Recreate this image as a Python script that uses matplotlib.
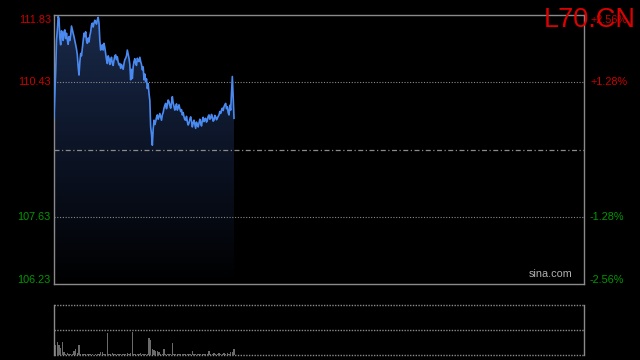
import numpy as np
import matplotlib.pyplot as plt
from matplotlib.colors import LinearSegmentedColormap

# ----------------------------------------
# Data
# ----------------------------------------
symbol = "L70.CN"
pre_close = 109.03
n_slots = 636          # full session width in price samples

price = [
    109.68, 110.20, 110.65, 111.30, 111.52, 111.80, 111.76, 111.35, 111.21, 111.50,
    111.45, 111.30, 111.48, 111.52, 111.34, 111.45, 111.31, 111.22, 111.38, 111.30,
    111.41, 111.60, 111.52, 111.45, 111.38, 111.30, 111.21, 111.12, 111.00, 110.75,
    110.58, 110.85, 111.03, 110.98, 111.14, 111.30, 111.45, 111.38, 111.48, 111.30,
    111.24, 111.35, 111.27, 111.40, 111.48, 111.62, 111.66, 111.58, 111.66, 111.72,
    111.69, 111.64, 111.73, 111.78, 111.66, 111.30, 111.10, 111.18, 111.21, 111.10,
    111.24, 111.15, 111.03, 110.90, 110.82, 110.98, 110.93, 110.80, 110.89, 110.95,
    110.82, 110.78, 110.89, 110.98, 111.00, 110.90, 110.96, 110.85, 110.79, 110.82,
    110.72, 110.80, 110.75, 110.70, 110.82, 110.90, 110.93, 110.98, 111.10, 111.02,
    110.93, 110.80, 110.48, 110.70, 110.51, 110.75, 110.86, 110.92, 110.82, 110.78,
    110.93, 110.88, 110.86, 110.95, 110.86, 110.80, 110.69, 110.75, 110.48, 110.60,
    110.44, 110.50, 110.30, 110.40, 110.20, 110.05, 109.50, 109.35, 109.12, 109.45,
    109.64, 109.55, 109.61, 109.70, 109.75, 109.66, 109.71, 109.78, 109.71, 109.64,
    109.75, 109.80, 109.89, 109.95, 109.99, 109.88, 109.96, 110.06, 110.03, 109.95,
    109.89, 110.00, 110.13, 110.00, 109.92, 109.85, 109.92, 109.98, 109.85, 109.90,
    109.96, 109.88, 109.82, 109.86, 109.75, 109.80, 109.71, 109.65, 109.64, 109.72,
    109.61, 109.54, 109.58, 109.66, 109.71, 109.62, 109.50, 109.58, 109.64, 109.55,
    109.47, 109.60, 109.54, 109.50, 109.58, 109.66, 109.58, 109.52, 109.64, 109.70,
    109.61, 109.66, 109.68, 109.60, 109.64, 109.72, 109.75, 109.66, 109.68, 109.76,
    109.71, 109.62, 109.64, 109.74, 109.71, 109.65, 109.68, 109.72, 109.75, 109.82,
    109.78, 109.85, 109.89, 109.84, 109.92, 109.96, 109.99, 109.88, 109.92, 109.80,
    109.75, 109.95, 109.85, 110.20, 110.55, 110.10, 109.68,
]

# one volume bar per two price samples
volume = [
    100, 20, 26, 20, 14, 26, 6, 3, 4, 2,
    3, 2, 8, 12, 4, 20, 3, 2, 2, 3,
    2, 2, 3, 2, 1, 2, 3, 2, 6, 6,
    2, 3, 45, 3, 2, 4, 2, 3, 2, 2,
    3, 2, 3, 2, 4, 3, 5, 46, 3, 2,
    3, 2, 4, 2, 3, 2, 3, 34, 30, 12,
    10, 8, 8, 6, 3, 2, 12, 3, 2, 3,
    2, 25, 3, 2, 2, 3, 2, 2, 3, 2,
    2, 3, 2, 8, 2, 3, 2, 2, 3, 2,
    2, 3, 2, 8, 2, 3, 4, 2, 3, 5,
    2, 3, 4, 2, 5, 3, 6, 6, 12,
]

pct_levels = [2.56, 1.28, -1.28, -2.56]
price_levels = [111.83, 110.43, 107.63, 106.23]

# ----------------------------------------
# Figure
# ----------------------------------------
plt.rcParams["font.family"] = ["Liberation Sans", "DejaVu Sans"]
fig = plt.figure(figsize=(6.4, 3.6), dpi=100, facecolor="black")

ax = fig.add_axes([54 / 640, 1 - 284 / 360, 530 / 640, 269 / 360])
axv = fig.add_axes([54 / 640, 1 - 355 / 360, 530 / 640, 50 / 360])

RED = "#cc0000"
GREEN = "#009900"
GRID = "#8a8a8a"
LINE = "#4a8af0"

x = np.arange(len(price))
lo, hi = 106.23, 111.83

# price panel
ax.set_facecolor("black")
fill = ax.fill_between(x, price, lo, color="none", lw=0)
grad = np.linspace(0, 1, 256).reshape(-1, 1)
cmap = LinearSegmentedColormap.from_list("fade", ["#000000", "#0c1426", "#1a2a4a"])
img = ax.imshow(grad, cmap=cmap, aspect="auto", origin="lower",
                extent=[0, x[-1], lo, max(price)], zorder=1)
img.set_clip_path(fill.get_paths()[0], transform=ax.transData)
ax.set_xlim(0, n_slots)
ax.set_ylim(lo, hi)

ax.plot(x, price, color=LINE, lw=1.2, zorder=3)

for lv in [110.43, 107.63]:
    ax.axhline(lv, color=GRID, lw=0.8, ls=(0, (1, 1.5)), zorder=2)
ax.axhline(pre_close, color=GRID, lw=0.9, ls=(0, (4, 2, 1, 2)), zorder=2)

for s in ax.spines.values():
    s.set_color(GRID)
    s.set_linewidth(1)
ax.set_xticks([])
ax.set_yticks([])

# axis labels
label_colors = [RED, RED, GREEN, GREEN]
label_y = [hi - 0.11, 110.43, 107.63, lo + 0.09]
for pv, py, c in zip(price_levels, label_y, label_colors):
    ax.text(-3.2 / 530 * n_slots, py, f"{pv:.2f}", color=c, fontsize=7.8,
            ha="right", va="center", clip_on=False)
for pc, py, c in zip(pct_levels, label_y, label_colors):
    ax.text(n_slots * (1 + 6 / 530), py, f"{pc:+.2f}%", color=c, fontsize=7.8,
            ha="left", va="center", clip_on=False)

ax.text(0.979, 0.018, "sina.com", transform=ax.transAxes, color="#b0b0b0",
        fontsize=7.8, ha="right", va="bottom")

fig.text(636 / 640, 1 - 27 / 360, symbol, color="#dd0000", fontsize=19.5,
         ha="right", va="baseline")

# volume panel
axv.set_facecolor("black")
xv = np.arange(len(volume)) * 2
axv.bar(xv, volume, width=1.4, color="#6a6a6a", align="center", zorder=2)
axv.set_xlim(0, n_slots)
axv.set_ylim(0, 100)
for lv in [0, 50, 100]:
    axv.axhline(lv, color=GRID, lw=1, ls=(0, (1, 1)), zorder=3, clip_on=False)
for side in ["top", "bottom"]:
    axv.spines[side].set_visible(False)
for side in ["left", "right"]:
    axv.spines[side].set_color(GRID)
    axv.spines[side].set_linewidth(1)
axv.set_xticks([])
axv.set_yticks([])

fig.savefig("out.png", dpi=100, facecolor="black")
